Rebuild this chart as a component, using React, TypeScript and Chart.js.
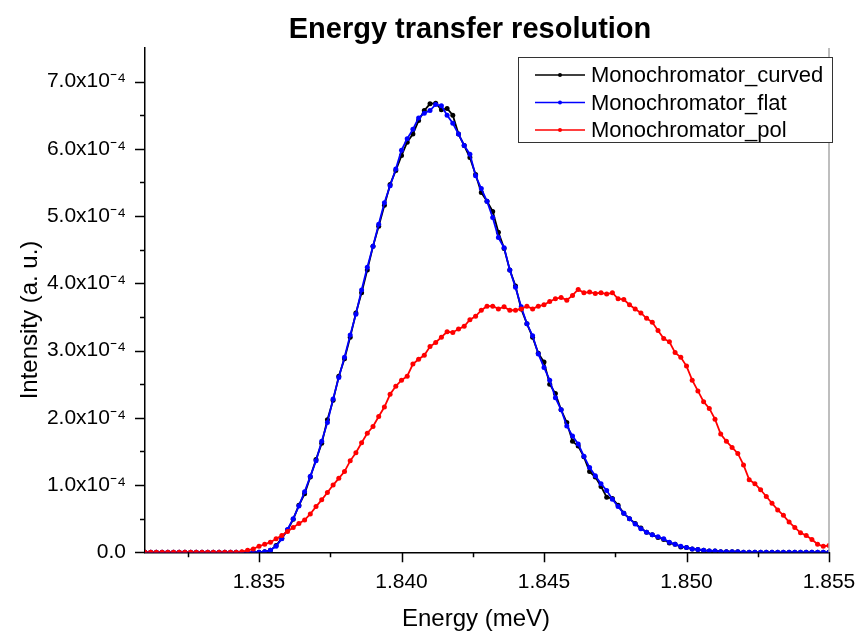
import { useEffect, useRef } from "react";
import { Chart, registerables } from "chart.js";

Chart.register(...registerables);

const TITLE = "Energy transfer resolution";
const X_TITLE = "Energy (meV)";
const Y_TITLE = "Intensity (a. u.)";
const SERIES_NAMES = ["Monochromator_curved", "Monochromator_flat", "Monochromator_pol"];
const SERIES_COLORS = ["#000000", "#0000ff", "#ff0000"];

// energy grid (meV)
const energies = [
  1.8310, 1.8312, 1.8314, 1.8316, 1.8318, 1.8320, 1.8322, 1.8324, 1.8326, 1.8328,
  1.8330, 1.8332, 1.8334, 1.8336, 1.8338, 1.8340, 1.8342, 1.8344, 1.8346, 1.8348,
  1.8350, 1.8352, 1.8354, 1.8356, 1.8358, 1.8360, 1.8362, 1.8364, 1.8366, 1.8368,
  1.8370, 1.8372, 1.8374, 1.8376, 1.8378, 1.8380, 1.8382, 1.8384, 1.8386, 1.8388,
  1.8390, 1.8392, 1.8394, 1.8396, 1.8398, 1.8400, 1.8402, 1.8404, 1.8406, 1.8408,
  1.8410, 1.8412, 1.8414, 1.8416, 1.8418, 1.8420, 1.8422, 1.8424, 1.8426, 1.8428,
  1.8430, 1.8432, 1.8434, 1.8436, 1.8438, 1.8440, 1.8442, 1.8444, 1.8446, 1.8448,
  1.8450, 1.8452, 1.8454, 1.8456, 1.8458, 1.8460, 1.8462, 1.8464, 1.8466, 1.8468,
  1.8470, 1.8472, 1.8474, 1.8476, 1.8478, 1.8480, 1.8482, 1.8484, 1.8486, 1.8488,
  1.8490, 1.8492, 1.8494, 1.8496, 1.8498, 1.8500, 1.8502, 1.8504, 1.8506, 1.8508,
  1.8510, 1.8512, 1.8514, 1.8516, 1.8518, 1.8520, 1.8522, 1.8524, 1.8526, 1.8528,
  1.8530, 1.8532, 1.8534, 1.8536, 1.8538, 1.8540, 1.8542, 1.8544, 1.8546, 1.8548,
  1.8550,
];

// intensities in units of 1e-4
const curved = [
  0, 0, 0, 0, 0, 0, 0, 0, 0, 0,
  0, 0, 0, 0, 0, 0, 0, 0, 0, 0,
  0, 0.01, 0.03, 0.10, 0.21, 0.33, 0.49, 0.70, 0.87, 1.12,
  1.38, 1.62, 1.97, 2.26, 2.62, 2.88, 3.20, 3.56, 3.86, 4.20,
  4.55, 4.85, 5.16, 5.47, 5.68, 5.90, 6.10, 6.22, 6.42, 6.57,
  6.67, 6.68, 6.58, 6.60, 6.50, 6.22, 6.05, 5.87, 5.62, 5.35,
  5.22, 5.07, 4.76, 4.52, 4.20, 3.96, 3.62, 3.40, 3.20, 2.96,
  2.83, 2.50, 2.36, 2.12, 1.93, 1.65, 1.58, 1.42, 1.20, 1.12,
  0.98, 0.82, 0.80, 0.70, 0.58, 0.50, 0.43, 0.36, 0.30, 0.26,
  0.22, 0.19, 0.14, 0.12, 0.08, 0.07, 0.05, 0.04, 0.03, 0.02,
  0.02, 0.01, 0.01, 0.01, 0.01, 0, 0, 0, 0, 0,
  0, 0, 0, 0, 0, 0, 0, 0, 0, 0,
  0,
];

const flat = [
  0, 0, 0, 0, 0, 0, 0, 0, 0, 0,
  0, 0, 0, 0, 0, 0, 0, 0, 0, 0,
  0, 0.01, 0.03, 0.09, 0.20, 0.34, 0.50, 0.69, 0.90, 1.13,
  1.36, 1.65, 1.93, 2.28, 2.60, 2.90, 3.23, 3.54, 3.90, 4.24,
  4.55, 4.88, 5.20, 5.45, 5.70, 5.98, 6.15, 6.29, 6.46, 6.53,
  6.57, 6.66, 6.64, 6.50, 6.38, 6.22, 6.05, 5.92, 5.60, 5.41,
  5.22, 4.98, 4.68, 4.53, 4.20, 3.94, 3.65, 3.40, 3.22, 2.95,
  2.75, 2.56, 2.30, 2.12, 1.88, 1.73, 1.61, 1.43, 1.26, 1.14,
  1.02, 0.92, 0.79, 0.68, 0.58, 0.50, 0.42, 0.35, 0.30, 0.26,
  0.23, 0.20, 0.15, 0.12, 0.09, 0.07, 0.05, 0.04, 0.03, 0.02,
  0.02, 0.01, 0.01, 0.01, 0.01, 0, 0, 0, 0, 0,
  0, 0, 0, 0, 0, 0, 0, 0, 0, 0,
  0,
];

const pol = [
  0, 0, 0, 0, 0, 0, 0, 0, 0, 0,
  0, 0, 0, 0, 0, 0, 0, 0.01, 0.03, 0.05,
  0.09, 0.12, 0.15, 0.20, 0.25, 0.31, 0.37, 0.43, 0.48, 0.57,
  0.68, 0.78, 0.89, 1.00, 1.10, 1.20, 1.36, 1.48, 1.63, 1.77,
  1.87, 2.02, 2.16, 2.35, 2.47, 2.56, 2.62, 2.80, 2.87, 2.93,
  3.06, 3.12, 3.20, 3.28, 3.27, 3.32, 3.36, 3.46, 3.51, 3.60,
  3.66, 3.66, 3.62, 3.65, 3.60, 3.60, 3.62, 3.66, 3.62, 3.66,
  3.68, 3.73, 3.77, 3.79, 3.75, 3.82, 3.91, 3.86, 3.87, 3.85,
  3.86, 3.84, 3.86, 3.77, 3.76, 3.68, 3.62, 3.56, 3.48, 3.42,
  3.30, 3.18, 3.13, 2.97, 2.90, 2.77, 2.56, 2.40, 2.24, 2.14,
  1.98, 1.76, 1.65, 1.56, 1.47, 1.30, 1.08, 1.02, 0.93, 0.83,
  0.73, 0.63, 0.55, 0.45, 0.37, 0.29, 0.25, 0.19, 0.12, 0.09,
  0.10,
];

const UNIT = 1e-4;
const X_MIN = 1.831;
const X_MAX = 1.855;
const Y_MAX = 7.5; // in units of 1e-4
const xMajorTicks = [1.835, 1.84, 1.845, 1.85, 1.855];
const xMinorTicks = [1.8325, 1.8375, 1.8425, 1.8475, 1.8525];
const yMajorTicks = [0, 1, 2, 3, 4, 5, 6, 7];
const yMinorTicks = [0.5, 1.5, 2.5, 3.5, 4.5, 5.5, 6.5];

const FONT = "'Liberation Sans', Arial, sans-serif";

const decorPlugin = {
  id: "decor",
  afterDraw(chart: any) {
    const { ctx, chartArea: a, scales } = chart;
    const xs = scales.x;
    const ys = scales.y;
    ctx.save();
    // right border
    ctx.strokeStyle = "#a8a8a8";
    ctx.lineWidth = 1.5;
    ctx.beginPath();
    ctx.moveTo(a.right, a.top);
    ctx.lineTo(a.right, a.bottom);
    ctx.stroke();
    // tick marks
    ctx.strokeStyle = "#000";
    ctx.lineWidth = 1.5;
    ctx.beginPath();
    for (const t of xMajorTicks) {
      const px = Math.round(xs.getPixelForValue(t)) + 0.5;
      ctx.moveTo(px, a.bottom);
      ctx.lineTo(px, a.bottom + 10);
    }
    for (const t of xMinorTicks) {
      const px = Math.round(xs.getPixelForValue(t)) + 0.5;
      ctx.moveTo(px, a.bottom);
      ctx.lineTo(px, a.bottom + 5);
    }
    for (const t of yMajorTicks) {
      const py = Math.round(ys.getPixelForValue(t * UNIT)) + 0.5;
      ctx.moveTo(a.left, py);
      ctx.lineTo(a.left - 10, py);
    }
    for (const t of yMinorTicks) {
      const py = Math.round(ys.getPixelForValue(t * UNIT)) + 0.5;
      ctx.moveTo(a.left, py);
      ctx.lineTo(a.left - 5, py);
    }
    ctx.stroke();

    // title
    ctx.fillStyle = "#000";
    ctx.font = `bold 29px ${FONT}`;
    ctx.textAlign = "center";
    ctx.textBaseline = "alphabetic";
    ctx.fillText(TITLE, 470, 38);

    // axis titles
    ctx.font = `24px ${FONT}`;
    ctx.textBaseline = "middle";
    ctx.fillText(X_TITLE, 476, 619);
    ctx.save();
    ctx.translate(30, 320);
    ctx.rotate(-Math.PI / 2);
    ctx.fillText(Y_TITLE, 0, 0);
    ctx.restore();

    // legend
    const bx = 518, by = 57, bw = 314, bh = 85;
    ctx.fillStyle = "#fff";
    ctx.fillRect(bx, by, bw, bh);
    ctx.strokeStyle = "#333";
    ctx.lineWidth = 1;
    ctx.strokeRect(bx + 0.5, by + 0.5, bw, bh);
    ctx.font = `22px ${FONT}`;
    ctx.textAlign = "left";
    ctx.textBaseline = "middle";
    chart.data.datasets.forEach((ds: any, i: number) => {
      const ly = 75 + i * 27.5;
      ctx.strokeStyle = ds.borderColor;
      ctx.lineWidth = 1.5;
      ctx.beginPath();
      ctx.moveTo(535, ly);
      ctx.lineTo(585, ly);
      ctx.stroke();
      ctx.fillStyle = ds.borderColor;
      ctx.beginPath();
      ctx.arc(560, ly, 2, 0, Math.PI * 2);
      ctx.fill();
      ctx.fillStyle = "#000";
      ctx.fillText(ds.label, 591, ly + 1);
    });
    ctx.restore();
  },
};

function makeData(values: number[]) {
  return energies.map((e, i) => ({ x: e, y: values[i] * UNIT }));
}

export default function App() {
  const ref = useRef<HTMLCanvasElement | null>(null);
  useEffect(() => {
    if (!ref.current) return;
    const seriesValues = [curved, flat, pol];
    const drawOrder = [2, 1, 0];
    const chart = new Chart(ref.current, {
      type: "line",
      data: {
        datasets: seriesValues.map((vals, i) => ({
          label: SERIES_NAMES[i],
          data: makeData(vals),
          borderColor: SERIES_COLORS[i],
          backgroundColor: SERIES_COLORS[i],
          pointBackgroundColor: SERIES_COLORS[i],
          borderWidth: 1.8,
          pointRadius: 2.5,
          pointBorderWidth: 0,
          pointHoverRadius: 2.5,
          tension: 0,
          fill: false,
          order: drawOrder[i],
        })),
      },
      options: {
        responsive: false,
        animation: false,
        devicePixelRatio: 1,
        layout: { autoPadding: false, padding: { left: 0, right: 30, top: 48, bottom: 0 } },
        plugins: {
          legend: { display: false },
          title: { display: false },
          tooltip: { enabled: false },
        },
        scales: {
          x: {
            type: "linear",
            min: X_MIN,
            max: X_MAX,
            grid: { display: false, drawTicks: false },
            border: { display: true, color: "#000", width: 1.5 },
            afterBuildTicks: (s: any) => {
              s.ticks = xMajorTicks.map((v) => ({ value: v }));
            },
            afterFit: (s: any) => {
              s.height = 635 - 552.3;
              s.paddingLeft = 0;
              s.paddingRight = 0;
            },
            ticks: {
              autoSkip: false,
              maxRotation: 0,
              padding: 17,
              color: "#000",
              font: { family: FONT, size: 21 },
              callback: (v: any) => Number(v).toFixed(3),
            },
            title: { display: false, text: X_TITLE },
          },
          y: {
            type: "linear",
            min: 0,
            max: Y_MAX * UNIT,
            grid: { display: false, drawTicks: false },
            border: { display: true, color: "#000", width: 1.5 },
            afterBuildTicks: (s: any) => {
              s.ticks = yMajorTicks.map((v) => ({ value: v * UNIT }));
            },
            afterFit: (s: any) => {
              s.width = 145;
              s.paddingTop = 0;
              s.paddingBottom = 0;
            },
            ticks: {
              autoSkip: false,
              padding: 19,
              color: "#000",
              font: { family: FONT, size: 21 },
              callback: (v: any) => {
                const n = Number(v) / UNIT;
                return Math.abs(n) < 1e-9 ? "0.0" : `${n.toFixed(1)}x10\u207B\u2074`;
              },
            },
            title: { display: false, text: Y_TITLE },
          },
        },
      },
      plugins: [decorPlugin],
    });
    return () => chart.destroy();
  }, []);
  return (
    <canvas
      ref={ref}
      width={859}
      height={635}
      style={{ position: "fixed", left: 0, top: 0, width: 859, height: 635, background: "#fff" }}
    />
  );
}
